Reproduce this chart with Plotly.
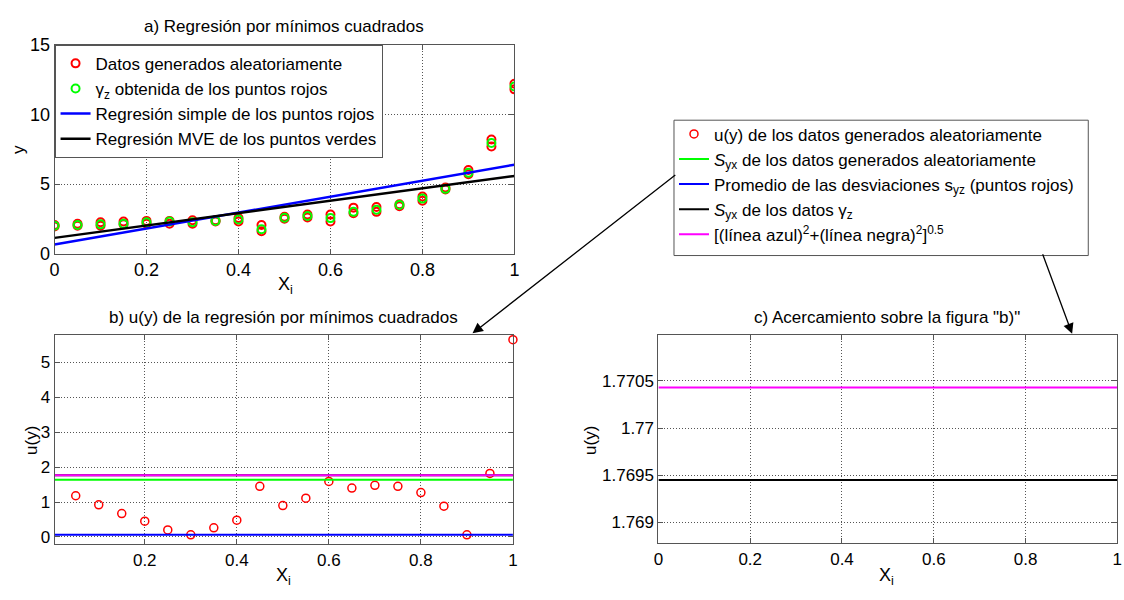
import plotly.graph_objects as go

# ---------------- data: panel a ----------------
x_a = [0, 0.05, 0.1, 0.15, 0.2, 0.25, 0.3, 0.35, 0.4, 0.45, 0.5,
       0.55, 0.6, 0.65, 0.7, 0.75, 0.8, 0.85, 0.9, 0.95, 1.0]
red_y_low = [1.95, 2.0, 2.0, 2.1, 2.15, 2.15, 2.15, 2.3, 2.3, 1.6, 2.5,
             2.6, 2.3, 2.9, 3.0, 3.4, 3.8, 4.6, 5.7, 7.7, 11.8]
red_y_high = [2.05, 2.15, 2.25, 2.3, 2.35, 2.35, 2.4, 2.4, 2.55, 2.05, 2.65,
              2.8, 2.8, 3.3, 3.35, 3.55, 4.1, 4.75, 6.0, 8.2, 12.2]
green_y = [2.0, 2.05, 2.1, 2.15, 2.25, 2.3, 2.25, 2.35, 2.45, 1.75, 2.57,
           2.7, 2.55, 3.0, 3.15, 3.5, 3.95, 4.65, 5.8, 7.95, 12.0]
reg_x = [0, 1]
blue_reg_y = [0.65, 6.39]
black_reg_y = [1.13, 5.58]

# ---------------- data: panel b / c ----------------
x_b = [0.05, 0.1, 0.15, 0.2, 0.25, 0.3, 0.35, 0.4, 0.45, 0.5,
       0.55, 0.6, 0.65, 0.7, 0.75, 0.8, 0.85, 0.9, 0.95, 1.0]
u_y = [1.18, 0.92, 0.67, 0.45, 0.2, 0.06, 0.26, 0.48, 1.45, 0.9,
       1.11, 1.59, 1.40, 1.48, 1.45, 1.27, 0.88, 0.06, 1.82, 5.65]
line_x = [0, 1]
syx_red = 1.64
mean_syz = 0.06
syx_green = 1.76945
combined = 1.77043

FONT = "Liberation Sans, Arial, sans-serif"
RED, GREEN, BLUE, MAG = "#ff0000", "#00ff00", "#0000ff", "#ff00ff"

fig = go.Figure()

# panel a
fig.add_trace(go.Scatter(x=x_a + x_a, y=red_y_low + red_y_high, mode="markers",
                         marker=dict(symbol="circle-open", size=8, color=RED, line=dict(width=2)),
                         name="Datos generados aleatoriamente", xaxis="x", yaxis="y", legend="legend"))
fig.add_trace(go.Scatter(x=x_a, y=green_y, mode="markers",
                         marker=dict(symbol="circle-open", size=8, color=GREEN, line=dict(width=2)),
                         name="γ<sub>z</sub> obtenida de los puntos rojos", xaxis="x", yaxis="y", legend="legend"))
fig.add_trace(go.Scatter(x=reg_x, y=blue_reg_y, mode="lines", line=dict(color=BLUE, width=2.5),
                         name="Regresión simple de los puntos rojos", xaxis="x", yaxis="y", legend="legend"))
fig.add_trace(go.Scatter(x=reg_x, y=black_reg_y, mode="lines", line=dict(color="black", width=2.5),
                         name="Regresión MVE de los puntos verdes", xaxis="x", yaxis="y", legend="legend"))

# panel b
fig.add_trace(go.Scatter(x=x_b, y=u_y, mode="markers",
                         marker=dict(symbol="circle-open", size=8, color=RED, line=dict(width=1.5)),
                         name="u(y) de los datos generados aleatoriamente", xaxis="x2", yaxis="y2", legend="legend2",
                         cliponaxis=False))
fig.add_trace(go.Scatter(x=line_x, y=[syx_red, syx_red], mode="lines", line=dict(color=GREEN, width=2),
                         name="<i>S</i><sub>yx</sub> de los datos generados aleatoriamente",
                         xaxis="x2", yaxis="y2", legend="legend2"))
fig.add_trace(go.Scatter(x=line_x, y=[mean_syz, mean_syz], mode="lines", line=dict(color=BLUE, width=2),
                         name="Promedio de las desviaciones s<sub>yz</sub> (puntos rojos)",
                         xaxis="x2", yaxis="y2", legend="legend2"))
fig.add_trace(go.Scatter(x=line_x, y=[syx_green, syx_green], mode="lines", line=dict(color="black", width=2),
                         name="<i>S</i><sub>yx</sub> de los datos γ<sub>z</sub>",
                         xaxis="x2", yaxis="y2", legend="legend2"))
fig.add_trace(go.Scatter(x=line_x, y=[combined, combined], mode="lines", line=dict(color=MAG, width=2),
                         name="[(línea azul)<sup>2</sup>+(línea negra)<sup>2</sup>]<sup>0.5</sup>",
                         xaxis="x2", yaxis="y2", legend="legend2"))

# panel c
fig.add_trace(go.Scatter(x=line_x, y=[syx_green, syx_green], mode="lines", line=dict(color="black", width=2),
                         showlegend=False, xaxis="x3", yaxis="y3"))
fig.add_trace(go.Scatter(x=line_x, y=[combined, combined], mode="lines", line=dict(color=MAG, width=2),
                         showlegend=False, xaxis="x3", yaxis="y3"))

W, H = 1124, 600


def px(x):
    return x / W


def py(y):
    return 1 - y / H


ax_common = dict(showline=True, linecolor="#555", linewidth=1, mirror="ticks",
                 ticks="inside", ticklen=5, tickcolor="#555",
                 showgrid=True, gridcolor="#555", griddash="1px,2px", gridwidth=1,
                 zeroline=False, color="black", ticklabeloverflow="allow")

fig.update_layout(
    width=W, height=H, margin=dict(l=0, r=0, t=0, b=0),
    paper_bgcolor="white", plot_bgcolor="white",
    font=dict(family=FONT, color="black"),
    xaxis=dict(domain=[px(50), px(514)], range=[0, 1], anchor="y",
               tickvals=[0, 0.2, 0.4, 0.6, 0.8, 1], tickfont=dict(size=18), **ax_common),
    yaxis=dict(domain=[py(252), py(36)], range=[0, 15], anchor="x",
               tickvals=[0, 5, 10, 15], tickfont=dict(size=18), **ax_common),
    xaxis2=dict(domain=[px(50), px(512.5)], range=[0.004, 1], anchor="y2",
                tickvals=[0.2, 0.4, 0.6, 0.8, 1], tickfont=dict(size=17), **ax_common),
    yaxis2=dict(domain=[py(552.7), py(336)], range=[-0.21, 5.79], anchor="x2",
                tickvals=[0, 1, 2, 3, 4, 5], tickfont=dict(size=17), **ax_common),
    xaxis3=dict(domain=[px(659.3), px(1122.3)], range=[0, 1], anchor="y3",
                tickvals=[0, 0.2, 0.4, 0.6, 0.8, 1], tickfont=dict(size=17), **ax_common),
    yaxis3=dict(domain=[py(551.7), py(336)], range=[1.768778, 1.770989], anchor="x3",
                tickvals=[1.769, 1.7695, 1.77, 1.7705],
                ticktext=["1.769", "1.7695", "1.77", "1.7705"], tickfont=dict(size=17), **ax_common),
    legend=dict(x=px(50), y=py(36), xanchor="left", yanchor="top",
                bgcolor="white", bordercolor="#555", borderwidth=1,
                font=dict(size=17, family=FONT), tracegroupgap=0),
    legend2=dict(x=px(675), y=py(110), xanchor="left", yanchor="top",
                 bgcolor="rgba(0,0,0,0)", borderwidth=0,
                 font=dict(size=17, family=FONT), tracegroupgap=0),
    shapes=[dict(type="rect", xref="paper", yref="paper",
                 x0=px(675), x1=px(1093), y0=py(254), y1=py(114),
                 line=dict(color="#555", width=1), fillcolor="white", layer="below")],
)

ann = []


def text(x, y, s, size, angle=0):
    ann.append(dict(x=px(x), y=py(y), xref="paper", yref="paper", text=s, showarrow=False,
                    font=dict(size=size, family=FONT, color="black"), textangle=angle,
                    xanchor="center", yanchor="middle"))


text(282, 17, "a) Regresión por mínimos cuadrados", 17)
text(281, 318, "b) u(y) de la regresión por mínimos cuadrados", 17)
text(890, 318, "c) Acercamiento sobre la figura \"b)\"", 17)
text(283, 285, "X<sub>i</sub>", 18)
text(281, 586, "X<sub>i</sub>", 18)
text(889, 586, "X<sub>i</sub>", 18)
text(13, 144, "y", 17, -90)
text(26, 445, "u(y)", 17, -90)
text(590, 445, "u(y)", 17, -90)

# arrows
ann.append(dict(x=px(471.7), y=py(334.5), xref="paper", yref="paper", text="", showarrow=True,
                ax=676 - 471.7, ay=175 - 334.5, arrowhead=2, arrowsize=1.6, arrowwidth=1.3,
                arrowcolor="black", standoff=0))
ann.append(dict(x=px(1076.7), y=py(335), xref="paper", yref="paper", text="", showarrow=True,
                ax=1046.7 - 1076.7, ay=254 - 335, arrowhead=2, arrowsize=1.6, arrowwidth=1.3,
                arrowcolor="black", standoff=0))

fig.update_layout(annotations=ann)
fig.write_html("out.html", config={"displayModeBar": False},
               post_script="document.body.style.margin='0px';")
